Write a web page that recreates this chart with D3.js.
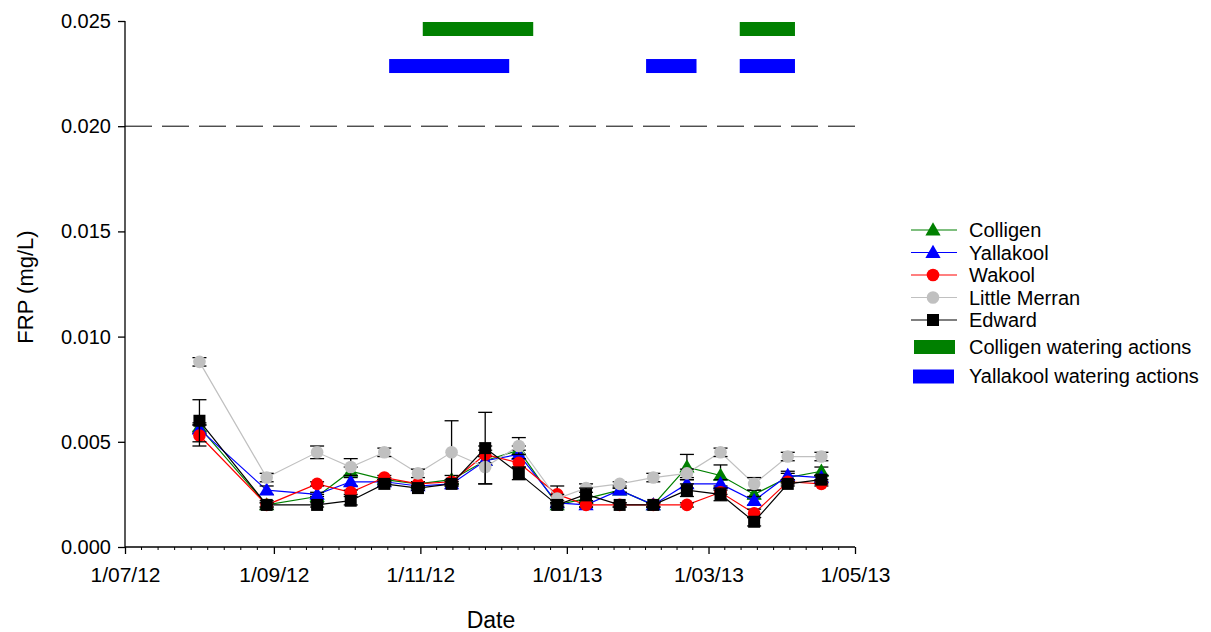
<!DOCTYPE html>
<html>
<head>
<meta charset="utf-8">
<script src="https://cdn.jsdelivr.net/npm/d3@7"></script>
<style>
  html, body { margin: 0; padding: 0; background: #fff; }
  svg text { font-family: "Liberation Sans", Arial, sans-serif; fill: #000; }
</style>
</head>
<body>
<svg id="chart" width="1211" height="632"></svg>
<script>
// Sampling dates (fortnightly site visits)
const sampleDates = [
  "2012-08-01", "2012-08-29", "2012-09-19", "2012-10-03", "2012-10-17", "2012-10-31",
  "2012-11-14", "2012-11-28", "2012-12-12", "2012-12-28", "2013-01-09", "2013-01-23",
  "2013-02-06", "2013-02-20", "2013-03-06", "2013-03-20", "2013-04-03", "2013-04-17"
];

// Mean FRP (mg/L) per site
const colligen     = [0.0057, 0.0020, 0.0024, 0.0036, 0.0032, 0.0030, 0.0032, 0.0041, 0.0046, 0.0020, 0.0023, 0.0027, 0.0020, 0.0038, 0.0034, 0.0025, 0.0033, 0.0036];
const yallakool    = [0.0056, 0.0027, 0.0025, 0.0031, 0.0031, 0.0029, 0.0030, 0.0041, 0.0044, 0.0021, 0.0020, 0.0027, 0.0020, 0.0030, 0.0030, 0.0022, 0.0034, 0.0033];
const wakool       = [0.0053, 0.0020, 0.0030, 0.0026, 0.0033, 0.0030, 0.0031, 0.0044, 0.0040, 0.0025, 0.0020, 0.0020, 0.0020, 0.0020, 0.0026, 0.0016, 0.0031, 0.0030];
const littleMerran = [0.0088, 0.0033, 0.0045, 0.0038, 0.0045, 0.0035, 0.0045, 0.0038, 0.0048, 0.0023, 0.0028, 0.0030, 0.0033, 0.0035, 0.0045, 0.0030, 0.0043, 0.0043];
const edward       = [0.0060, 0.0020, 0.0020, 0.0022, 0.0030, 0.0028, 0.0030, 0.0047, 0.0035, 0.0020, 0.0025, 0.0020, 0.0020, 0.0027, 0.0025, 0.0012, 0.0030, 0.0032];

// Standard errors
const colligenErr     = [0.0002, 0.0001, 0.0001, 0.0002, 0.0001, 0.0001, 0.0002, 0.0002, 0.0002, 0.0001, 0.0001, 0.0001, 0.0001, 0.0006, 0.0005, 0.0002, 0.0002, 0.0002];
const yallakoolErr    = [0.0002, 0.0002, 0.0001, 0.0002, 0.0001, 0.0001, 0.0001, 0.0002, 0.0002, 0.0001, 0.0001, 0.0001, 0.0001, 0.0002, 0.0002, 0.0002, 0.0002, 0.0001];
const wakoolErr       = [0.0005, 0.0001, 0.0001, 0.0001, 0.0001, 0.0001, 0.0001, 0.0004, 0.0002, 0.0004, 0.0001, 0.0001, 0.0001, 0.0001, 0.0001, 0.0002, 0.0001, 0.0001];
const littleMerranErr = [0.0002, 0.0002, 0.0003, 0.0004, 0.0002, 0.0002, 0.0015, 0.0008, 0.0004, 0.0002, 0.0002, 0.0001, 0.0002, 0.0002, 0.0002, 0.0003, 0.0002, 0.0002];
const edwardErr       = [0.0010, 0.0002, 0.0001, 0.0002, 0.0001, 0.0001, 0.0001, 0.0017, 0.0003, 0.0001, 0.0003, 0.0001, 0.0001, 0.0003, 0.0003, 0.0002, 0.0001, 0.0002];

// Environmental watering actions (start, end) and the level each band is drawn at
const colligenWatering  = [["2012-11-02", "2012-12-18"], ["2013-03-14", "2013-04-06"]];
const yallakoolWatering = [["2012-10-19", "2012-12-08"], ["2013-02-03", "2013-02-24"], ["2013-03-14", "2013-04-06"]];
const colligenBandLevel  = 0.02462;
const yallakoolBandLevel = 0.02286;

// Guideline trigger value
const guidelineValue = 0.020;

// Axis ticks
const xTickDates  = ["2012-07-01", "2012-09-01", "2012-11-01", "2013-01-01", "2013-03-01", "2013-05-01"];
const xTickLabels = ["1/07/12", "1/09/12", "1/11/12", "1/01/13", "1/03/13", "1/05/13"];
const yTickValues = [0.000, 0.005, 0.010, 0.015, 0.020, 0.025];

const seriesNames  = ["Colligen", "Yallakool", "Wakool", "Little Merran", "Edward"];
const seriesColors = ["#008000", "#0000ff", "#ff0000", "#c0c0c0", "#000000"];
const seriesShapes = ["triangle", "triangle", "circle", "circle", "square"];

const parse = d3.utcParse("%Y-%m-%d");
const dates = sampleDates.map(parse);
const values = [colligen, yallakool, wakool, littleMerran, edward];
const errors = [colligenErr, yallakoolErr, wakoolErr, littleMerranErr, edwardErr];

const series = seriesNames.map((name, i) => ({
  name, color: seriesColors[i], shape: seriesShapes[i],
  points: dates.map((d, j) => ({ date: d, v: values[i][j], e: errors[i][j] }))
}));

const svg = d3.select("#chart");
const plotLeft = 125, plotRight = 855, plotTop = 21, plotBottom = 547;

const x = d3.scaleUtc()
  .domain([parse(xTickDates[0]), parse(xTickDates[xTickDates.length - 1])])
  .range([plotLeft, plotRight]);
const y = d3.scaleLinear().domain([0, 0.025]).range([plotBottom, plotTop]);

// Y axis
const yAxis = d3.axisLeft(y).tickValues(yTickValues).tickFormat(d3.format(".3f")).tickSize(7).tickPadding(7);
const gy = svg.append("g").attr("transform", `translate(${plotLeft},0)`).call(yAxis);
gy.select(".domain").attr("stroke", "#000").attr("stroke-width", 1.3).attr("d", `M0,${plotBottom}V${plotTop}`);
gy.selectAll(".tick line").attr("stroke", "#000").attr("stroke-width", 1.3);
gy.selectAll("text").style("font-size", "20px").attr("font-family", "Liberation Sans, Arial, sans-serif");

// X axis with minor ticks (8 between each labelled pair)
const tickDates = xTickDates.map(parse);
const xAxis = d3.axisBottom(x).tickValues(tickDates)
  .tickFormat((d, i) => xTickLabels[i]).tickSize(7).tickPadding(13);
const gx = svg.append("g").attr("transform", `translate(0,${plotBottom})`).call(xAxis);
gx.select(".domain").attr("stroke", "#000").attr("stroke-width", 1.3).attr("d", `M${plotLeft},0H${plotRight}`);
gx.selectAll(".tick line").attr("stroke", "#000").attr("stroke-width", 1.3);
gx.selectAll("text").style("font-size", "21px").attr("font-family", "Liberation Sans, Arial, sans-serif");

const minor = [];
for (let i = 0; i < tickDates.length - 1; i++) {
  const a = x(tickDates[i]), b = x(tickDates[i + 1]);
  for (let k = 1; k <= 8; k++) minor.push(a + (b - a) * k / 9);
}
gx.append("g").selectAll("line").data(minor).join("line")
  .attr("x1", d => d).attr("x2", d => d).attr("y1", 0).attr("y2", 3)
  .attr("stroke", "#000").attr("stroke-width", 1);

// Axis titles
svg.append("text").attr("x", 491).attr("y", 628)
  .attr("text-anchor", "middle").style("font-size", "23px").text("Date");
svg.append("text").attr("transform", `translate(33,287) rotate(-90)`)
  .attr("text-anchor", "middle").style("font-size", "22px").text("FRP (mg/L)");

// Guideline dashed line
svg.append("line")
  .attr("x1", plotLeft).attr("x2", 860).attr("y1", y(guidelineValue)).attr("y2", y(guidelineValue))
  .attr("stroke", "#000").attr("stroke-width", 1).attr("stroke-dasharray", "27,10");

// Watering action bands
const bandH = 14;
svg.append("g").selectAll("rect").data(colligenWatering).join("rect")
  .attr("x", d => x(parse(d[0]))).attr("width", d => x(parse(d[1])) - x(parse(d[0])))
  .attr("y", y(colligenBandLevel) - bandH / 2).attr("height", bandH).attr("fill", "#008000");
svg.append("g").selectAll("rect").data(yallakoolWatering).join("rect")
  .attr("x", d => x(parse(d[0]))).attr("width", d => x(parse(d[1])) - x(parse(d[0])))
  .attr("y", y(yallakoolBandLevel) - bandH / 2).attr("height", bandH).attr("fill", "#0000ff");

// Marker drawing helper
function drawMarker(g, shape, color, cx, cy) {
  if (shape === "circle") {
    g.append("circle").attr("cx", cx).attr("cy", cy).attr("r", 6.3).attr("fill", color);
  } else if (shape === "square") {
    g.append("rect").attr("x", cx - 6).attr("y", cy - 6).attr("width", 12).attr("height", 12).attr("fill", color);
  } else {
    const s = d3.symbol().type(d3.symbolTriangle).size(100);
    g.append("path").attr("d", s()).attr("transform", `translate(${cx},${cy + 1})`).attr("fill", color);
  }
}

const line = d3.line().x(d => x(d.date)).y(d => y(d.v));

series.forEach(s => {
  const g = svg.append("g");
  g.append("path").datum(s.points).attr("d", line)
    .attr("fill", "none").attr("stroke", s.color).attr("stroke-width", 1.2);
  // error bars
  const eb = g.append("g").attr("stroke", "#000").attr("stroke-width", 1.3);
  s.points.forEach(p => {
    const px = x(p.date), y1 = y(p.v + p.e), y2 = y(p.v - p.e);
    eb.append("line").attr("x1", px).attr("x2", px).attr("y1", y1).attr("y2", y2);
    eb.append("line").attr("x1", px - 7).attr("x2", px + 7).attr("y1", y1).attr("y2", y1);
    eb.append("line").attr("x1", px - 7).attr("x2", px + 7).attr("y1", y2).attr("y2", y2);
  });
  s.points.forEach(p => drawMarker(g, s.shape, s.color, x(p.date), y(p.v)));
});

// Legend
const lg = svg.append("g");
const legendRows = [230, 252.5, 275, 297.5, 320];
series.forEach((s, i) => {
  const ry = legendRows[i];
  lg.append("line").attr("x1", 911).attr("x2", 957).attr("y1", ry).attr("y2", ry)
    .attr("stroke", s.color).attr("stroke-width", 1.2);
  drawMarker(lg, s.shape, s.color, 933, ry);
  lg.append("text").attr("x", 969).attr("y", ry + 7).style("font-size", "20px").text(s.name);
});
lg.append("rect").attr("x", 914).attr("y", 340).attr("width", 41).attr("height", 14).attr("fill", "#008000");
lg.append("text").attr("x", 969).attr("y", 354).style("font-size", "20px").text("Colligen watering actions");
lg.append("rect").attr("x", 913).attr("y", 369.5).attr("width", 41).attr("height", 14).attr("fill", "#0000ff");
lg.append("text").attr("x", 969).attr("y", 383).style("font-size", "20px").text("Yallakool watering actions");
</script>
</body>
</html>
